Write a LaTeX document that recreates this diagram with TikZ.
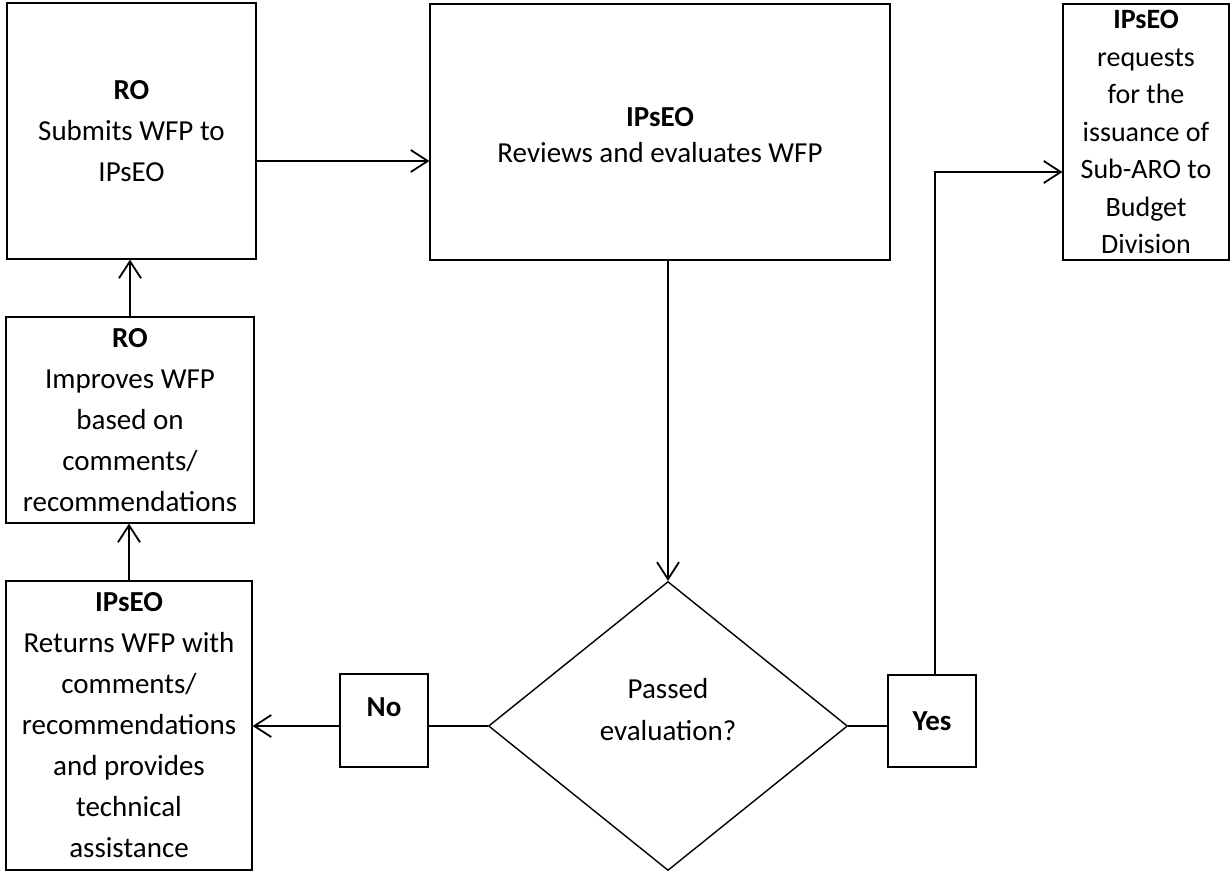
\documentclass[tikz,border=0pt]{standalone}
\usepackage{fontspec}
\setmainfont{Carlito}
\usetikzlibrary{shapes.geometric,arrows.meta,calc}
\begin{document}
\begin{tikzpicture}[x=1pt,y=-1pt,
  box/.style={draw=black,line width=1.2pt,rectangle,inner sep=0pt,align=center,
    font=\fontsize{29}{41}\selectfont},
  dec/.style={draw=black,line width=1.4pt,diamond,inner sep=0pt,align=center,
    font=\fontsize{29}{42}\selectfont},
  conn/.style={line width=1.8pt},
  arr/.style={conn,-{Straight Barb[length=17pt,width=22pt,line width=1.8pt]}}]
\useasboundingbox (0,0) rectangle (1230,872);
\node[box,minimum width=249pt,minimum height=256pt] (A) at (131.5,131)
  {\textbf{RO}\\Submits WFP to\\IPsEO};
\node[box,minimum width=460pt,minimum height=256pt,font=\fontsize{29}{36}\selectfont] (B) at (660,132)
  {\raisebox{-5pt}[\height][\depth]{\begin{tabular}{@{}c@{}}\textbf{IPsEO}\\Reviews and evaluates WFP\end{tabular}}};
\node[box,minimum width=166pt,minimum height=256pt,font=\fontsize{28}{37.5}\selectfont] (C) at (1146,132)
  {\textbf{IPsEO}\\requests\\for the\\issuance of\\Sub-ARO to\\Budget\\Division};
\node[box,minimum width=248pt,minimum height=206pt] (D) at (130,420)
  {\textbf{RO}\\Improves WFP\\based on\\comments/\\recommendations};
\node[box,minimum width=246pt,minimum height=289pt] (E) at (129,725.5)
  {\textbf{IPsEO}\\Returns WFP with\\comments/\\recommendations\\and provides\\technical\\assistance};
\node[box,minimum width=88pt,minimum height=93pt] (No) at (384,720.5)
  {\raisebox{13pt}[\height][\depth]{\textbf{No}}};
\node[dec,minimum width=359pt,minimum height=289pt] (dia) at (668,726)
  {\raisebox{15pt}[\height][\depth]{\begin{tabular}{@{}c@{}}Passed\\evaluation?\end{tabular}}};
\node[box,minimum width=88pt,minimum height=92pt] (Yes) at (932,721)
  {\textbf{Yes}};
\draw[arr] ([yshift=-30pt]A.east) -- ([yshift=-30pt]A.east -| B.west);
\draw[arr] (D.north) -- (D.north |- A.south);
\draw[arr] (E.north) -- (E.north |- D.south);
\draw[arr] (dia.north |- B.south) -- (dia.north);
\draw[conn] (dia.west) -- (dia.west -| No.east);
\draw[arr] (No.west |- dia.west) -- (E.east |- dia.west);
\draw[conn] (dia.east) -- (dia.east -| Yes.west);
\draw[arr] ([xshift=3pt]Yes.north) |- ([yshift=-40pt]C.west);
\end{tikzpicture}
\end{document}
